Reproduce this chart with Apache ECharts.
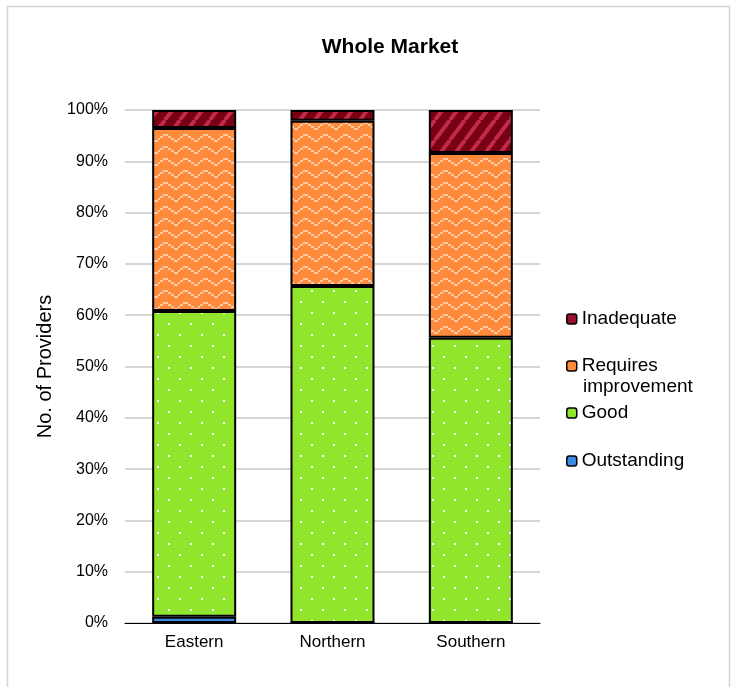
<!DOCTYPE html>
<html>
<head>
<meta charset="UTF-8">
<script src="https://cdn.jsdelivr.net/npm/echarts@6/dist/echarts.min.js"></script>
</head>
<body style="margin:0;background:#fff;">
<div id="chart" style="width:737px;height:687px;"></div>
<script>
var regions = ['Eastern', 'Northern', 'Southern'];
var outstanding = [1.2, 0, 0];
var good = [59.6, 65.7, 55.6];
var requiresImprovement = [35.7, 32.2, 36.0];
var inadequate = [3.5, 2.1, 8.4];
var yTicks = ['0%', '10%', '20%', '30%', '40%', '50%', '60%', '70%', '80%', '90%', '100%'];

// little canvas tiles for the pattern fills
function tile(w, h, draw) {
    var c = document.createElement('canvas');
    c.width = w; c.height = h;
    draw(c.getContext('2d'));
    return c;
}
var goodTile = tile(22, 22, function (g) {
    g.fillStyle = '#92e52d'; g.fillRect(0, 0, 22, 22);
    g.fillStyle = '#ffffff';
    g.fillRect(3, 4, 2, 2);
    g.fillRect(14, 15, 2, 2);
});
var riTile = tile(20, 12, function (g) {
    g.fillStyle = '#ff8a3c'; g.fillRect(0, 0, 20, 12);
    g.fillStyle = '#ffcba2';
    g.fillRect(0, 4, 3, 2); g.fillRect(3, 2, 5, 2); g.fillRect(8, 4, 3, 2);
    g.fillRect(11, 6, 3, 2); g.fillRect(14, 8, 4, 2); g.fillRect(18, 6, 2, 2);
});
var inadTile = tile(15, 20, function (g) {
    g.fillStyle = '#780012'; g.fillRect(0, 0, 15, 20);
    g.strokeStyle = '#c12a4c'; g.lineWidth = 4;
    g.beginPath();
    g.moveTo(-15, 20); g.lineTo(0, 0);
    g.moveTo(0, 20); g.lineTo(15, 0);
    g.moveTo(15, 20); g.lineTo(30, 0);
    g.stroke();
});

var chart = echarts.init(document.getElementById('chart'));
function series(name, data, fill) {
    return {
        name: name, type: 'bar', stack: 'all', data: data, barWidth: 84,
        itemStyle: {color: fill, borderColor: '#000', borderWidth: 2},
        emphasis: {disabled: true}
    };
}
// one legend per entry so each can sit where Excel put it
function legendItem(name, color, top, label) {
    return {
        left: 561, top: top, itemWidth: 10, itemHeight: 10, itemGap: 0, textGap: 6,
        formatter: label ? function () { return label; } : null,
        textStyle: {fontSize: 19, color: '#000', lineHeight: 22},
        data: [{name: name, itemStyle: {color: color, borderColor: '#000', borderWidth: 1.5}}]
    };
}
chart.setOption({
    animation: false,
    textStyle: {fontFamily: 'Liberation Sans, Arial, sans-serif'},
    graphic: [{
        type: 'rect', shape: {x: 7.5, y: 6.5, width: 722, height: 700},
        style: {fill: 'none', stroke: '#d4d4d4', lineWidth: 1.5}, silent: true
    }, {
        type: 'text', left: 583, top: 377, silent: true,
        style: {text: 'improvement', fontSize: 19, fill: '#000', fontFamily: 'Liberation Sans, Arial, sans-serif'}
    }],
    title: {
        text: 'Whole Market', left: 385, top: 32, textAlign: 'center',
        textStyle: {fontSize: 21, fontWeight: 'bold', color: '#000'}
    },
    grid: {left: 125, right: 197, top: 110, bottom: 64},
    legend: [
        legendItem('Inadequate', '#9b1030', 303),
        legendItem('Requires improvement', '#ff8a3c', 350, 'Requires'),
        legendItem('Good', '#92e52d', 397),
        legendItem('Outstanding', '#3c8ce6', 445)
    ],
    xAxis: {
        type: 'category', data: regions,
        axisLine: {lineStyle: {color: '#000', width: 1}},
        axisTick: {show: false},
        axisLabel: {color: '#000', fontSize: 17, margin: 11}
    },
    yAxis: {
        type: 'value', min: 0, max: 100, interval: 10,
        name: 'No. of Providers', nameLocation: 'middle', nameGap: 70,
        nameTextStyle: {fontSize: 20, color: '#000'},
        axisLine: {show: false}, axisTick: {show: false},
        axisLabel: {color: '#000', fontSize: 16, margin: 17,
            formatter: function (v) { return yTicks[Math.round(v / 10)]; }},
        splitLine: {lineStyle: {color: '#c8c8c8', width: 1.5}}
    },
    series: [
        series('Outstanding', outstanding, '#3c8ce6'),
        series('Good', good, {image: goodTile, repeat: 'repeat'}),
        series('Requires improvement', requiresImprovement, {image: riTile, repeat: 'repeat'}),
        series('Inadequate', inadequate, {image: inadTile, repeat: 'repeat'})
    ]
});
</script>
</body>
</html>
